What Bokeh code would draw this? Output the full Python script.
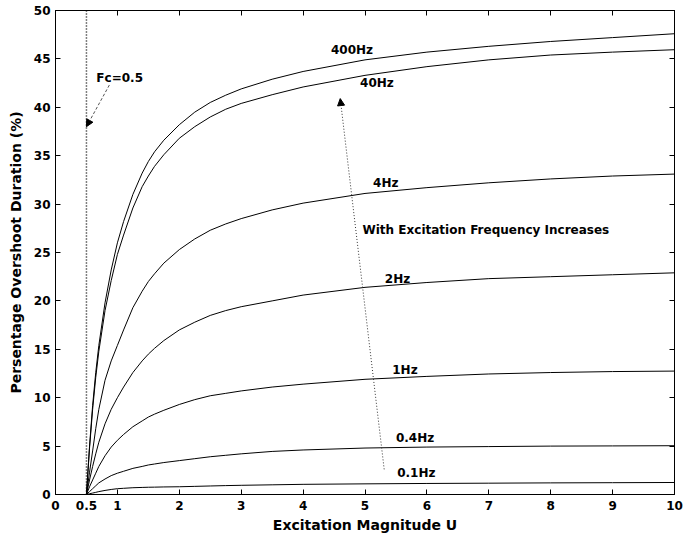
from bokeh.plotting import figure
from bokeh.models import (FixedTicker, LinearAxis, Range1d, Span, Arrow,
                          NormalHead, ColumnDataSource)
from bokeh.core.properties import value
from bokeh.embed import file_html
from bokeh.resources import INLINE

# ---- data ----
U = [0.5, 0.55, 0.6, 0.65, 0.7, 0.8, 0.9, 1.0, 1.1, 1.25, 1.4, 1.5, 1.6, 1.75,
     2.0, 2.25, 2.5, 2.75, 3.0, 3.5, 4.0, 5.0, 6.0, 7.0, 8.0, 9.0, 10.0]
f400 = [0, 5.0, 9.2, 12.6, 15.4, 19.8, 23.2, 26.0, 28.2, 31.0, 33.2, 34.4, 35.4, 36.6,
        38.2, 39.5, 40.5, 41.25, 41.9, 42.9, 43.7, 44.9, 45.7, 46.3, 46.8, 47.2, 47.6]
f40 = [0, 4.8, 8.8, 12.1, 14.8, 19.0, 22.1, 24.8, 26.8, 29.6, 31.8, 32.9, 33.9, 35.1,
       36.8, 38.0, 39.0, 39.8, 40.4, 41.3, 42.1, 43.3, 44.2, 44.9, 45.4, 45.7, 45.95]
f4 = [0, 2.3, 4.5, 6.8, 8.8, 11.8, 13.8, 15.4, 17.0, 19.3, 21.0, 22.0, 22.8, 23.9,
      25.3, 26.4, 27.3, 27.95, 28.5, 29.4, 30.1, 31.1, 31.7, 32.2, 32.6, 32.9, 33.1]
f2 = [0, 1.5, 2.9, 4.2, 5.4, 7.3, 8.8, 10.0, 11.1, 12.6, 13.8, 14.5, 15.1, 15.9,
      17.0, 17.8, 18.5, 19.0, 19.4, 20.0, 20.6, 21.4, 21.9, 22.3, 22.5, 22.7, 22.9]
f1 = [0, 0.8, 1.5, 2.2, 2.9, 4.0, 4.9, 5.6, 6.2, 7.0, 7.6, 8.0, 8.3, 8.7,
      9.3, 9.8, 10.2, 10.45, 10.7, 11.1, 11.4, 11.9, 12.2, 12.45, 12.6, 12.7, 12.75]
f04 = [0, 0.3, 0.6, 0.9, 1.2, 1.6, 1.95, 2.2, 2.4, 2.7, 2.9, 3.05, 3.15, 3.3,
       3.5, 3.7, 3.9, 4.05, 4.2, 4.45, 4.6, 4.8, 4.9, 4.95, 5.0, 5.02, 5.04]
f01 = [0, 0.08, 0.15, 0.22, 0.3, 0.42, 0.52, 0.6, 0.64, 0.7, 0.73, 0.75, 0.76, 0.78,
       0.8, 0.84, 0.88, 0.92, 0.95, 1.0, 1.05, 1.1, 1.14, 1.17, 1.2, 1.22, 1.24]

x_ticks = [0, 0.5, 1, 2, 3, 4, 5, 6, 7, 8, 9, 10]
y_ticks = [0, 5, 10, 15, 20, 25, 30, 35, 40, 45, 50]

label_text = ["400Hz", "40Hz", "4Hz", "2Hz", "1Hz", "0.4Hz", "0.1Hz",
              "With Excitation Frequency Increases", "Fc=0.5"]
label_x = [4.45, 4.92, 5.13, 5.32, 5.44, 5.50, 5.52, 4.96, 0.66]
label_y = [45.9, 42.5, 32.2, 22.3, 12.9, 5.8, 2.2, 27.3, 43.0]

fc_value = 0.5
fc_arrow = dict(x_start=0.87, y_start=42.3, x_end=0.5, y_end=38.0)
freq_arrow = dict(x_start=5.31, y_start=2.6, x_end=4.6, y_end=40.9)

FONT = "DejaVu Sans"

p = figure(width=693, height=535, x_range=Range1d(0, 10), y_range=Range1d(0, 50),
           output_backend="svg", toolbar_location=None,
           min_border_left=55, min_border_right=19, min_border_top=10,
           min_border_bottom=41)
p.xgrid.visible = False
p.ygrid.visible = False
p.outline_line_color = "black"
p.outline_line_width = 1
p.background_fill_color = "white"
p.border_fill_color = "white"

for ax, ticks in ((p.xaxis[0], x_ticks), (p.yaxis[0], y_ticks)):
    ax.ticker = FixedTicker(ticks=ticks)
    ax.major_tick_in = 5
    ax.major_tick_out = 0
    ax.minor_tick_line_color = None
    ax.axis_line_color = "black"
    ax.major_tick_line_color = "black"
    ax.major_label_text_font = FONT
    ax.major_label_text_font_style = "bold"
    ax.major_label_text_font_size = "12px"
    ax.major_label_text_color = "black"
    ax.axis_label_text_font = FONT
    ax.axis_label_text_font_style = "bold"
    ax.axis_label_text_font_size = "14px"
    ax.axis_label_text_color = "black"

p.xaxis.axis_label = "Excitation Magnitude U"
p.yaxis.axis_label = "Persentage Overshoot Duration (%)"
p.xaxis.major_label_standoff = 6
p.xaxis.axis_label_standoff = 4
p.yaxis.major_label_standoff = 5
p.yaxis.axis_label_standoff = 7

for side, ticks in (("above", x_ticks[2:]), ("right", y_ticks)):
    ax = LinearAxis(ticker=FixedTicker(ticks=ticks))
    ax.major_tick_in = 5
    ax.major_tick_out = 0
    ax.minor_tick_line_color = None
    ax.major_label_text_color = None
    ax.major_label_text_font_size = "1px"
    ax.major_label_standoff = 0
    ax.axis_line_color = "black"
    p.add_layout(ax, side)

for ys in (f400, f40, f4, f2, f1, f04, f01):
    p.line(U, ys, line_color="black", line_width=1)

p.add_layout(Span(location=fc_value, dimension="height", line_color="black",
                  line_dash="1 2", line_width=1.5))

p.add_layout(Arrow(end=NormalHead(size=7, fill_color="black", line_color="black"),
                   line_color="#555555", line_dash="3 2", line_width=1, **fc_arrow))
p.add_layout(Arrow(end=NormalHead(size=7, fill_color="black", line_color="black"),
                   line_color="#333333", line_dash="1 2", line_width=1, **freq_arrow))

src = ColumnDataSource(dict(x=label_x, y=label_y, t=label_text))
p.text(x="x", y="y", text="t", source=src, text_font=value(FONT),
       text_font_style="bold", text_font_size="12px", text_color="black",
       text_baseline="middle", text_align="left")

open("out.html", "w").write(file_html(p, INLINE))
